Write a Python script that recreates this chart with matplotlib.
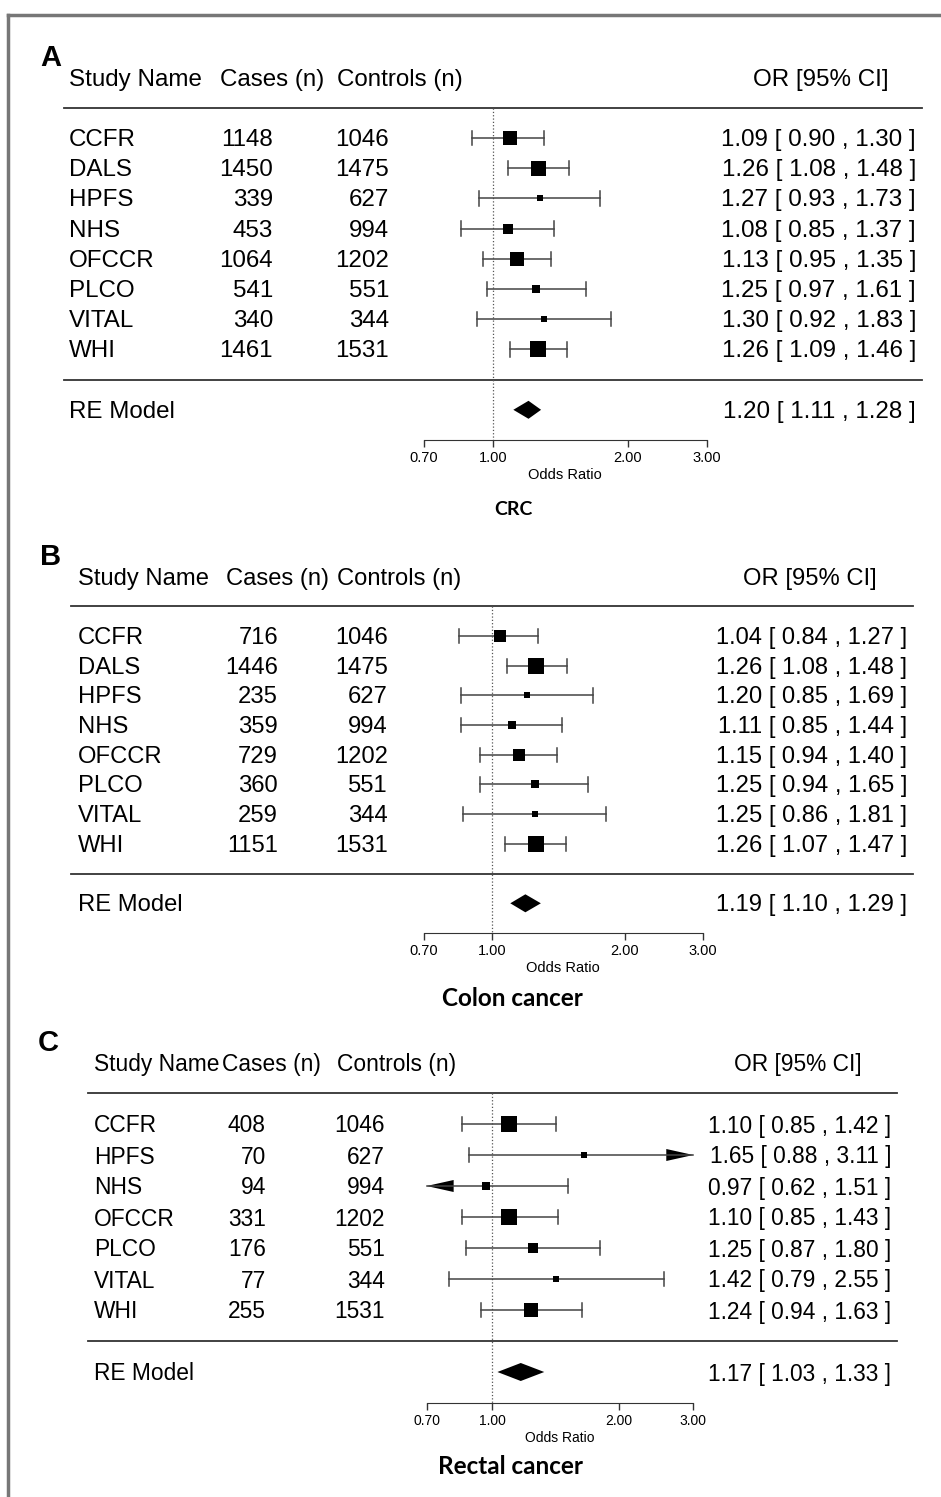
import numpy as np
import matplotlib
matplotlib.use("Agg")
import matplotlib.pyplot as plt
import matplotlib.transforms as transforms
from matplotlib.ticker import NullLocator, FixedLocator, FixedFormatter

plt.rcParams['font.family'] = ['Liberation Sans', 'DejaVu Sans']

W, H = 941, 1497

# Panel A: CRC
studies_a = ['CCFR', 'DALS', 'HPFS', 'NHS', 'OFCCR', 'PLCO', 'VITAL', 'WHI']
cases_a = [1148, 1450, 339, 453, 1064, 541, 340, 1461]
controls_a = [1046, 1475, 627, 994, 1202, 551, 344, 1531]
or_a = [1.09, 1.26, 1.27, 1.08, 1.13, 1.25, 1.30, 1.26]
lo_a = [0.90, 1.08, 0.93, 0.85, 0.95, 0.97, 0.92, 1.09]
hi_a = [1.30, 1.48, 1.73, 1.37, 1.35, 1.61, 1.83, 1.46]
re_a = [1.20, 1.11, 1.28]
box_a = [14, 15, 6, 9.5, 13.7, 8.3, 5.7, 16.5]

# Panel B: colon cancer
studies_b = ['CCFR', 'DALS', 'HPFS', 'NHS', 'OFCCR', 'PLCO', 'VITAL', 'WHI']
cases_b = [716, 1446, 235, 359, 729, 360, 259, 1151]
controls_b = [1046, 1475, 627, 994, 1202, 551, 344, 1531]
or_b = [1.04, 1.26, 1.20, 1.11, 1.15, 1.25, 1.25, 1.26]
lo_b = [0.84, 1.08, 0.85, 0.85, 0.94, 0.94, 0.86, 1.07]
hi_b = [1.27, 1.48, 1.69, 1.44, 1.40, 1.65, 1.81, 1.47]
re_b = [1.19, 1.10, 1.29]
box_b = [12, 16, 6, 8.7, 12.3, 8, 5.3, 16]

# Panel C: rectal cancer
studies_c = ['CCFR', 'HPFS', 'NHS', 'OFCCR', 'PLCO', 'VITAL', 'WHI']
cases_c = [408, 70, 94, 331, 176, 77, 255]
controls_c = [1046, 627, 994, 1202, 551, 344, 1531]
or_c = [1.10, 1.65, 0.97, 1.10, 1.25, 1.42, 1.24]
lo_c = [0.85, 0.88, 0.62, 0.85, 0.87, 0.79, 0.94]
hi_c = [1.42, 3.11, 1.51, 1.43, 1.80, 2.55, 1.63]
re_c = [1.17, 1.03, 1.33]
box_c = [16.3, 5.7, 8, 15.3, 10, 6, 14.3]

tick_vals = [0.70, 1.00, 2.00, 3.00]
headers = ['Study Name', 'Cases (n)', 'Controls (n)', 'OR [95% CI]']

fig = plt.figure(figsize=(W / 100, H / 100), dpi=100)


def fx(px):
    return px / W


def fy(py):
    return 1 - py / H


def forest(data, lay):
    names, cases, ctrls, est, lo, hi, re, box = data
    n = len(names)
    y0, dy = lay['y0'], lay['dy']
    top, bot = -2.5, n + 2
    ptop, pbot = y0 + top * dy, y0 + bot * dy
    ax = fig.add_axes([0, fy(pbot), 1, (pbot - ptop) / H])
    ax.patch.set_alpha(0)
    ax.set_xscale('log')
    k = (lay['x2'] - lay['x1']) / np.log(2)
    ax.set_xlim(np.exp(-lay['x1'] / k), np.exp((W - lay['x1']) / k))
    ax.set_ylim(bot, top)
    xmin, xmax = tick_vals[0], tick_vals[-1]

    for s in ['top', 'left', 'right']:
        ax.spines[s].set_visible(False)
    ax.spines['bottom'].set_bounds(xmin, xmax)
    ax.spines['bottom'].set_color('#333333')
    ax.xaxis.set_major_locator(FixedLocator(tick_vals))
    ax.xaxis.set_major_formatter(FixedFormatter(['%.2f' % v for v in tick_vals]))
    ax.xaxis.set_minor_locator(NullLocator())
    ax.set_yticks([])
    ax.tick_params(axis='x', length=5, width=1, color='#333333', pad=3,
                   labelsize=lay['tfs'])
    # axis title centred under the drawn axis span
    ax.annotate('Odds Ratio', xy=(np.sqrt(xmin * xmax), 0), xycoords=('data', 'axes fraction'),
                xytext=(0, -25.5), textcoords='offset points', ha='center', va='center',
                fontsize=lay['tfs'])

    bl = transforms.blended_transform_factory(fig.transFigure, ax.transData)
    fs = lay['fs']
    lc = '#444444'
    off = 2 / dy  # text sits slightly below the row centre

    # header
    ax.text(fx(lay['hx'][0]), -2 + off, headers[0], transform=bl, ha='left', va='center', fontsize=fs)
    ax.text(fx(lay['hx'][1]), -2 + off, headers[1], transform=bl, ha='left', va='center', fontsize=fs)
    ax.text(fx(lay['hx'][2]), -2 + off, headers[2], transform=bl, ha='left', va='center', fontsize=fs)
    ax.text(fx(lay['hx'][3]), -2 + off, headers[3], transform=bl, ha='right', va='center', fontsize=fs)
    for yl in [-1, n]:
        ax.plot([fx(lay['lx'][0]), fx(lay['lx'][1])], [yl, yl], transform=bl,
                color='#333333', lw=1.3)
    ax.plot([1, 1], [-1, bot], ls=':', color='#555555', lw=0.9)

    cap = 0.24
    for i in range(n):
        ty = i + off
        ax.text(fx(lay['nx']), ty, names[i], transform=bl, ha='left', va='center', fontsize=fs)
        ax.text(fx(lay['cx']), ty, str(cases[i]), transform=bl, ha='right', va='center', fontsize=fs)
        ax.text(fx(lay['kx']), ty, str(ctrls[i]), transform=bl, ha='right', va='center', fontsize=fs)
        ax.text(fx(lay['ox']), ty, '%.2f [ %.2f , %.2f ]' % (est[i], lo[i], hi[i]),
                transform=bl, ha='right', va='center', fontsize=fs)
        a, b = max(lo[i], xmin), min(hi[i], xmax)
        ax.plot([a, b], [i, i], color=lc, lw=1.1)
        ah = 6 / dy
        aw = 27 / k
        if lo[i] >= xmin:
            ax.plot([lo[i], lo[i]], [i - cap, i + cap], color=lc, lw=1.1)
        else:
            ax.fill([xmin, xmin * np.exp(aw), xmin * np.exp(aw)], [i, i - ah, i + ah],
                    color='black', lw=0)
        if hi[i] <= xmax:
            ax.plot([hi[i], hi[i]], [i - cap, i + cap], color=lc, lw=1.1)
        else:
            ax.fill([xmax, xmax / np.exp(aw), xmax / np.exp(aw)], [i, i - ah, i + ah],
                    color='black', lw=0)
        ax.plot(est[i], i, marker='s', ms=box[i] * 0.72, color='black', mew=0)

    # summary
    yr = n + 1
    ax.text(fx(lay['nx']), yr + off, 'RE Model', transform=bl, ha='left', va='center', fontsize=fs)
    ax.text(fx(lay['ox']), yr + off, '%.2f [ %.2f , %.2f ]' % (re[0], re[1], re[2]),
            transform=bl, ha='right', va='center', fontsize=fs)
    dh = 9 / dy
    ax.fill([re[1], re[0], re[2], re[0]], [yr, yr - dh, yr, yr + dh], color='black', lw=0)

    fig.text(fx(lay['letter'][0]), fy(lay['letter'][1]), lay['tag'], fontsize=21,
             fontweight='bold', ha='left', va='center')
    fig.text(fx(lay['title'][0]), fy(lay['title'][1]), lay['name'], fontsize=lay['tsz'],
             fontweight='bold', family=['Lato', 'DejaVu Sans'], ha='center', va='center')


forest((studies_a, cases_a, controls_a, or_a, lo_a, hi_a, re_a, box_a),
       dict(y0=138, dy=30.2, x1=493, x2=628, nx=69, cx=273, kx=389, ox=916,
            hx=[69, 220, 337, 889], lx=[64, 922], letter=(40, 58), tag='A',
            title=(513, 509), name='CRC', tsz=14, tfs=10.5, fs=17.4))
forest((studies_b, cases_b, controls_b, or_b, lo_b, hi_b, re_b, box_b),
       dict(y0=636, dy=29.7, x1=492, x2=625, nx=78, cx=278, kx=388, ox=907,
            hx=[78, 226, 337, 877], lx=[71, 913], letter=(40, 557), tag='B',
            title=(512, 999), name='Colon cancer', tsz=17.5, tfs=10.5, fs=17.1))
forest((studies_c, cases_c, controls_c, or_c, lo_c, hi_c, re_c, box_c),
       dict(y0=1124, dy=31, x1=492, x2=619, nx=94, cx=266, kx=385, ox=891,
            hx=[94, 222, 337, 862], lx=[88, 897], letter=(38, 1043), tag='C',
            title=(511, 1467), name='Rectal cancer', tsz=17.5, tfs=10, fs=16.4))

# frame on the left and top edge
fig.add_artist(plt.Line2D([fx(8), fx(8)], [0, fy(15)], color='#777777', lw=2.5))
fig.add_artist(plt.Line2D([fx(8), 1], [fy(15), fy(15)], color='#777777', lw=2.5))

fig.savefig('out.png', dpi=100)
